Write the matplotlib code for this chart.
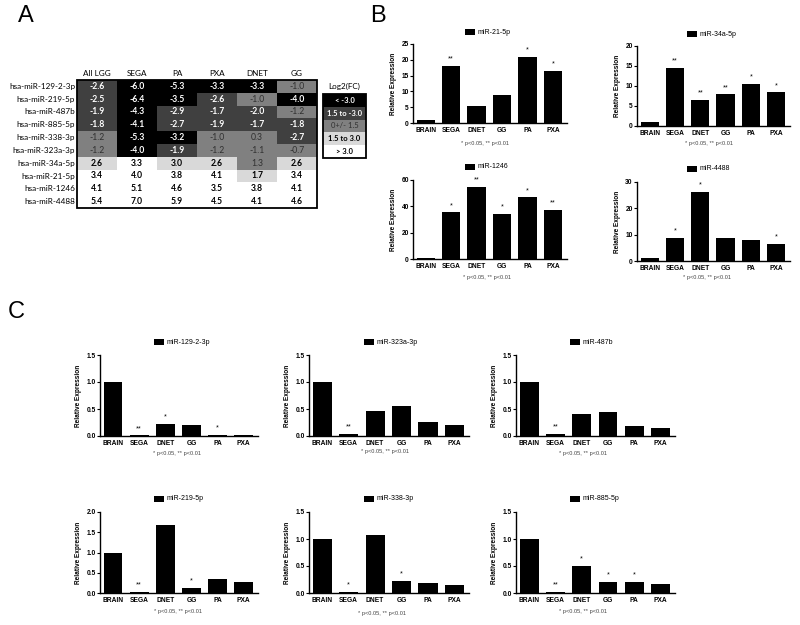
import matplotlib
matplotlib.use('Agg')
import matplotlib.pyplot as plt
from matplotlib.patches import Rectangle
import numpy as np

# ---- Panel A data: log2 fold change table
mirnas = ['hsa-miR-129-2-3p', 'hsa-miR-219-5p', 'hsa-miR-487b', 'hsa-miR-885-5p',
          'hsa-miR-338-3p', 'hsa-miR-323a-3p', 'hsa-miR-34a-5p', 'hsa-miR-21-5p',
          'hsa-miR-1246', 'hsa-miR-4488']
tumours = ['All LGG', 'SEGA', 'PA', 'PXA', 'DNET', 'GG']
log2fc = [
    [-2.6, -6.0, -5.3, -3.3, -3.3, -1.0],
    [-2.5, -6.4, -3.5, -2.6, -1.0, -4.0],
    [-1.9, -4.3, -2.9, -1.7, -2.0, -1.2],
    [-1.8, -4.1, -2.7, -1.9, -1.7, -1.8],
    [-1.2, -5.3, -3.2, -1.0, 0.3, -2.7],
    [-1.2, -4.0, -1.9, -1.2, -1.1, -0.7],
    [2.6, 3.3, 3.0, 2.6, 1.3, 2.6],
    [3.4, 4.0, 3.8, 4.1, 1.7, 3.4],
    [4.1, 5.1, 4.6, 3.5, 3.8, 4.1],
    [5.4, 7.0, 5.9, 4.5, 4.1, 4.6],
]
legend_labels = ['< -3.0', '1.5 to -3.0', '0+/- 1.5', '1.5 to 3.0', '> 3.0']
legend_values = [-4.0, -2.0, 0.0, 2.0, 4.0]

# ---- Panels B and C data: relative expression
groups = ['BRAIN', 'SEGA', 'DNET', 'GG', 'PA', 'PXA']

mir21 = [1.0, 18.1, 5.3, 8.9, 20.8, 16.6]
mir21_sig = ['', '**', '', '', '*', '*']
mir34a = [1.0, 14.6, 6.6, 7.9, 10.5, 8.4]
mir34a_sig = ['', '**', '**', '**', '*', '*']
mir1246 = [1.0, 35.4, 54.7, 34.1, 46.8, 37.1]
mir1246_sig = ['', '*', '**', '*', '*', '**']
mir4488 = [1.0, 8.9, 26.1, 8.7, 8.1, 6.4]
mir4488_sig = ['', '*', '*', '', '', '*']

mir129 = [1.0, 0.01, 0.22, 0.21, 0.02, 0.01]
mir129_sig = ['', '**', '*', '', '*', '']
mir323a = [1.0, 0.04, 0.46, 0.55, 0.26, 0.21]
mir323a_sig = ['', '**', '', '', '', '']
mir487b = [1.0, 0.04, 0.41, 0.44, 0.18, 0.15]
mir487b_sig = ['', '**', '', '', '', '']
mir219 = [1.0, 0.03, 1.68, 0.12, 0.34, 0.26]
mir219_sig = ['', '**', '', '*', '', '']
mir338 = [1.0, 0.02, 1.08, 0.22, 0.18, 0.15]
mir338_sig = ['', '*', '', '*', '', '']
mir885 = [1.0, 0.02, 0.50, 0.21, 0.20, 0.17]
mir885_sig = ['', '**', '*', '*', '*', '']

note = '* p<0.05, ** p<0.01'

W, H = 800, 625
fig = plt.figure(figsize=(8, 6.25), dpi=100)

# overlay in pixel coordinates for the table, panel letters and legends
ov = fig.add_axes([0, 0, 1, 1])
ov.set_xlim(0, W)
ov.set_ylim(H, 0)
ov.axis('off')

def shade(v):
    if v < -3.0:
        return 'black', 'white', 'bold'
    if v < -1.5:
        return '#404040', 'white', 'bold'
    if v <= 1.5:
        return '#808080', '#303030', 'normal'
    if v <= 3.0:
        return '#d9d9d9', 'black', 'bold'
    return 'white', 'black', 'bold'

tfont = 'Lato'
t_left, t_top, cw, rh = 77, 80, 40, 12.8
for j, t in enumerate(tumours):
    ov.text(t_left + cw * (j + 0.5), t_top - 3, t, ha='center', va='bottom',
            fontsize=5.9, family=tfont)
for i, m in enumerate(mirnas):
    y = t_top + rh * i
    ov.text(t_left - 2, y + rh / 2, m, ha='right', va='center', fontsize=5.9, family=tfont)
    for j, v in enumerate(log2fc[i]):
        fc, tc, fw = shade(v)
        ov.add_patch(Rectangle((t_left + cw * j, y), cw, rh, facecolor=fc, edgecolor='none'))
        ov.text(t_left + cw * (j + 0.5), y + rh / 2, f'{v:.1f}', ha='center', va='center',
                fontsize=6.2, color=tc, weight=fw, family=tfont)
ov.add_patch(Rectangle((t_left, t_top), cw * len(tumours), rh * len(mirnas),
                       facecolor='none', edgecolor='black', lw=1.3))

# colour key
k_left, k_top, kw = 323, 94, 43
ov.text(k_left + kw / 2, k_top - 4, 'Log2(FC)', ha='center', va='bottom', fontsize=5.9, family=tfont)
for i, (lab, v) in enumerate(zip(legend_labels, legend_values)):
    fc, tc, fw = shade(v)
    y = k_top + rh * i
    ov.add_patch(Rectangle((k_left, y), kw, rh, facecolor=fc, edgecolor='none'))
    ov.text(k_left + kw / 2, y + rh / 2, lab, ha='center', va='center', fontsize=5.5,
            color=tc, weight=fw, family=tfont)
ov.add_patch(Rectangle((k_left, k_top), kw, rh * len(legend_labels),
                       facecolor='none', edgecolor='black', lw=1.3))

for letter, x, y in [('A', 26, 16), ('B', 378, 16), ('C', 16, 312)]:
    ov.text(x, y, letter, ha='center', va='center', fontsize=17, family='Liberation Sans')


def bar_panel(box, values, sig, name, ymax, step, fmt, leg, foot):
    l, t, r, b = box
    ax = fig.add_axes([l / W, 1 - b / H, (r - l) / W, (b - t) / H])
    x = np.arange(len(groups))
    ax.bar(x, values, width=0.72, color='black')
    ax.set_xlim(-0.5, 5.55)
    ax.set_ylim(0, ymax)
    ax.set_yticks(np.arange(0, ymax + step / 2, step))
    ax.set_yticklabels([fmt.format(v) for v in np.arange(0, ymax + step / 2, step)])
    ax.set_xticks(x)
    ax.set_xticklabels(groups)
    for s in ['top', 'right']:
        ax.spines[s].set_visible(False)
    for s in ['left', 'bottom']:
        ax.spines[s].set_linewidth(1.0)
    ax.tick_params(axis='y', length=2, width=0.8, pad=1)
    ax.tick_params(axis='x', length=0, pad=3)
    for lab in ax.get_xticklabels() + ax.get_yticklabels():
        lab.set_fontsize(4.8)
        lab.set_fontweight('bold')
        lab.set_family('Liberation Sans')
    ax.set_ylabel('Relative Expression', fontsize=4.7, weight='bold',
                  family='Liberation Sans', labelpad=3)
    for xi, v, s in zip(x, values, sig):
        if s:
            ax.annotate(s, (xi, v), xytext=(0, 2.5), textcoords='offset points',
                        ha='center', va='bottom', fontsize=5.2, family='Liberation Sans')
    sx, sy = leg
    ov.add_patch(Rectangle((sx, sy - 3), 10, 6, facecolor='black', edgecolor='none'))
    ov.text(sx + 13, sy, name, ha='left', va='center', fontsize=5, family='Liberation Sans')
    ov.text(foot[0], foot[1], note, ha='center', va='center', fontsize=4.1,
            color='#444444', family='Liberation Sans')
    return ax


bar_panel((413, 44, 567, 123), mir21, mir21_sig, 'miR-21-5p', 25, 5, '{:.0f}', (465, 32), (485, 143))
bar_panel((637, 46, 790, 126), mir34a, mir34a_sig, 'miR-34a-5p', 20, 5, '{:.0f}', (687, 34), (709, 143))
bar_panel((413, 180, 567, 259), mir1246, mir1246_sig, 'miR-1246', 60, 20, '{:.0f}', (465, 167), (487, 277))
bar_panel((637, 182, 790, 261), mir4488, mir4488_sig, 'miR-4488', 30, 10, '{:.0f}', (687, 169), (707, 277))

bar_panel((100, 355, 258, 436), mir129, mir129_sig, 'miR-129-2-3p', 1.5, 0.5, '{:.1f}', (154, 342), (177, 454))
bar_panel((309, 355, 469, 436), mir323a, mir323a_sig, 'miR-323a-3p', 1.5, 0.5, '{:.1f}', (364, 342), (385, 452))
bar_panel((516, 355, 675, 436), mir487b, mir487b_sig, 'miR-487b', 1.5, 0.5, '{:.1f}', (570, 342), (583, 453))
bar_panel((100, 512, 258, 593), mir219, mir219_sig, 'miR-219-5p', 2.0, 0.5, '{:.1f}', (154, 499), (178, 611))
bar_panel((309, 512, 469, 593), mir338, mir338_sig, 'miR-338-3p', 1.5, 0.5, '{:.1f}', (364, 499), (382, 613))
bar_panel((516, 512, 675, 593), mir885, mir885_sig, 'miR-885-5p', 1.5, 0.5, '{:.1f}', (570, 499), (583, 611))

fig.savefig('out.png', dpi=100)
